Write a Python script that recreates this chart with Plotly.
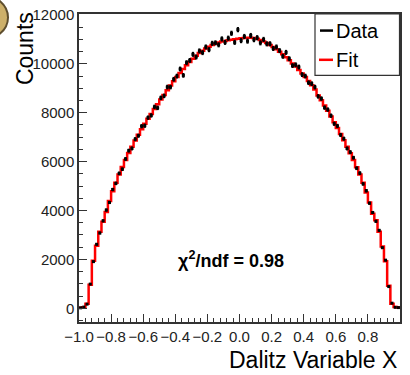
import numpy as np
import plotly.graph_objects as go

# ---- data (100 bins on [-1, 1]) ----
x_min, x_max, n_bins = -1.0, 1.0, 100

fit_counts = [
    20, 40, 190, 960, 1950, 2560, 3130, 3540, 3940, 4390,
    4790, 5140, 5470, 5780, 6070, 6350, 6610, 6860, 7100, 7330,
    7550, 7750, 7950, 8150, 8350, 8540, 8730, 8920, 9110, 9290,
    9460, 9630, 9790, 9940, 10080, 10210, 10330, 10440, 10540, 10630,
    10700, 10770, 10820, 10870, 10910, 10940, 10970, 10990, 11010, 11030,
    11050, 11060, 11070, 11070, 11060, 11030, 10980, 10920, 10850, 10770,
    10690, 10600, 10500, 10390, 10270, 10150, 10020, 9890, 9750, 9610,
    9460, 9300, 9130, 8950, 8710, 8510, 8300, 8080, 7850, 7610,
    7380, 7130, 6880, 6610, 6340, 6070, 5770, 5470, 5140, 4740,
    4330, 3870, 3600, 3130, 2530, 1930, 920, 190, 50, 30,
]

data_counts = [
    20, 50, 170, 990, 1910, 2620, 3080, 3580, 4020, 4330,
    4860, 5110, 5520, 5690, 6110, 6450, 6540, 6920, 7060, 7450,
    7470, 7800, 7890, 8240, 8200, 8610, 8690, 9050, 9050, 9370,
    9500, 9790, 9530, 10050, 10140, 10390, 10280, 10530, 10460, 10690,
    10580, 10840, 10860, 10780, 11020, 10880, 11050, 11250, 10880, 11400,
    10950, 11120, 10930, 11160, 10990, 11070, 10860, 11000, 10820, 10820,
    10630, 10690, 10540, 10310, 10470, 10210, 9930, 9960, 9870, 9560,
    9500, 9230, 9190, 9050, 8670, 8580, 8210, 8130, 7880, 7550,
    7460, 7090, 6940, 6540, 6390, 6160, 5730, 5530, 5090, 4810,
    4300, 3920, 3560, 3190, 2480, 1970, 890, 210, 40, 30,
]

x_ticks = [-1.0, -0.8, -0.6, -0.4, -0.2, 0.0, 0.2, 0.4, 0.6, 0.8, 1.0]
y_ticks = [0, 2000, 4000, 6000, 8000, 10000, 12000]

legend_labels = ["Data", "Fit"]
chi2_text = "χ<sup>2</sup>/ndf = 0.98"
x_title = "Dalitz Variable X"
y_title = "Counts"

# ---- derived ----
edges = np.linspace(x_min, x_max, n_bins + 1)
centers = 0.5 * (edges[:-1] + edges[1:])
fit_arr = np.array(fit_counts, dtype=float)
data_arr = np.array(data_counts, dtype=float)

W, H = 410, 375
ML, MR, MT, MB = 79, 10, 6, 53
PW, PH = W - ML - MR, H - MT - MB


def px(xp):
    return (xp - ML) / PW


def py(yp):
    return (H - MB - yp) / PH


FONT = "Liberation Sans, Arial, Helvetica, sans-serif"

fig = go.Figure()

# fit as step histogram
fig.add_trace(go.Scatter(
    x=np.append(edges[:-1], edges[-1]),
    y=np.append(fit_arr, fit_arr[-1]),
    mode="lines",
    line=dict(color="#ff0000", width=2.5, shape="hv"),
    showlegend=False,
    hoverinfo="skip",
))

# data points with error bars
fig.add_trace(go.Scatter(
    x=centers,
    y=data_arr,
    mode="markers",
    marker=dict(color="black", size=3, symbol="square"),
    error_y=dict(type="data", array=np.sqrt(data_arr), thickness=2.2,
                 width=0, color="black"),
    showlegend=False,
))

axis_common = dict(
    showgrid=False, zeroline=False, showline=True, mirror=True,
    linecolor="#333333", linewidth=1.5,
    ticks="inside", ticklen=8, tickwidth=1, tickcolor="#333333",
    tickfont=dict(family=FONT, size=15, color="#222222"),
)

fig.update_layout(
    width=W, height=H,
    margin=dict(l=ML, r=MR, t=MT, b=MB),
    paper_bgcolor="white", plot_bgcolor="white",
    font=dict(family=FONT),
    xaxis=dict(range=[x_min, x_max], tickvals=x_ticks, tickformat=".1f",
               minor=dict(ticks="inside", ticklen=4, dtick=0.04, tick0=-1.0,
                          tickcolor="#333333", showgrid=False),
               **axis_common),
    yaxis=dict(range=[-560, 12040], tickvals=y_ticks, tickformat="d",
               minor=dict(ticks="inside", ticklen=4, dtick=500, tick0=0,
                          tickcolor="#333333", showgrid=False),
               **axis_common),
    showlegend=False,
)

annotations = [
    dict(text=y_title, textangle=-90, xref="paper", yref="paper",
         x=px(24.5), y=py(2), xanchor="center", yanchor="top",
         showarrow=False, font=dict(family=FONT, size=23, color="black")),
    dict(text=x_title, xref="paper", yref="paper",
         x=px(399), y=py(361), xanchor="right", yanchor="middle",
         showarrow=False, font=dict(family=FONT, size=23, color="black")),
    dict(text="<b>" + chi2_text + "</b>", xref="x", yref="y",
         x=-0.055, y=2000, xanchor="center", yanchor="middle",
         showarrow=False, font=dict(family=FONT, size=18, color="black")),
    dict(text=legend_labels[0], xref="paper", yref="paper",
         x=px(334), y=py(23), xanchor="left", yanchor="middle",
         showarrow=False, font=dict(family=FONT, size=20, color="black")),
    dict(text=legend_labels[1], xref="paper", yref="paper",
         x=px(334), y=py(53), xanchor="left", yanchor="middle",
         showarrow=False, font=dict(family=FONT, size=20, color="black")),
]
fig.update_layout(annotations=annotations)

shapes = [
    # legend box
    dict(type="rect", xref="paper", yref="paper",
         x0=px(315), x1=px(399.5), y0=py(69), y1=py(6),
         line=dict(color="#333333", width=1.2), fillcolor="white", layer="above"),
    dict(type="line", xref="paper", yref="paper",
         x0=px(320), x1=px(333), y0=py(23), y1=py(23),
         line=dict(color="black", width=2.5)),
    dict(type="line", xref="paper", yref="paper",
         x0=px(319), x1=px(333), y0=py(53), y1=py(53),
         line=dict(color="#ff0000", width=2.5)),
    # partial logo at top-left corner
    dict(type="circle", xref="paper", yref="paper",
         x0=px(-46), x1=px(8), y0=py(33), y1=py(-14),
         line=dict(color="#5e4e2e", width=2), fillcolor="#cdb06a"),
]
fig.update_layout(shapes=shapes)

fig.write_html("out.html")
